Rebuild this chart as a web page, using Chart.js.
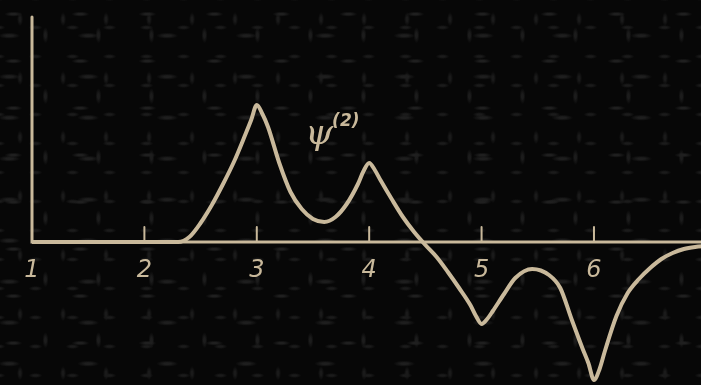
<!DOCTYPE html>
<html>
<head>
<meta charset="utf-8">
<script src="https://cdn.jsdelivr.net/npm/chart.js@4"></script>
<style>
  html, body { margin: 0; padding: 0; overflow: hidden; }
  body {
    width: 701px; height: 385px;
    background-color: #070707;
    background-image:
      radial-gradient(ellipse 9px 2.5px at 20% 30%, #1f1f1f 30%, transparent 100%),
      radial-gradient(ellipse 3px 8px at 65% 20%, #1c1c1c 30%, transparent 100%),
      radial-gradient(ellipse 11px 3px at 75% 70%, #1e1e1e 30%, transparent 100%),
      radial-gradient(ellipse 3px 7px at 35% 80%, #1a1a1a 30%, transparent 100%),
      radial-gradient(ellipse 7px 2.5px at 50% 50%, #1b1b1b 30%, transparent 100%);
    background-size: 67px 47px, 53px 61px, 79px 41px, 43px 59px, 37px 29px;
    background-position: 0 0, 11px 23px, 29px 7px, 5px 31px, 17px 13px;
  }
  #wrap { position: absolute; left: 0; top: 0; width: 720px; height: 385px; }
</style>
</head>
<body>
<div id="wrap"><canvas id="psi"></canvas></div>
<script>
// curve
const xs = [1.0, 2.0, 2.3, 2.4, 2.5, 2.6, 2.7, 2.8, 2.9, 2.95, 3.0, 3.05, 3.1, 3.2, 3.3, 3.4, 3.5, 3.6, 3.7, 3.8, 3.9, 3.95, 4.0, 4.05, 4.1, 4.2, 4.3, 4.4, 4.5, 4.6, 4.7, 4.8, 4.9, 4.95, 5.0, 5.05, 5.1, 5.2, 5.3, 5.45, 5.6, 5.7, 5.8, 5.9, 5.95, 6.0, 6.05, 6.1, 6.2, 6.3, 6.4, 6.5, 6.6, 6.7, 6.8, 6.9, 7.0]
const ys = [0, 0, 0, 0.05, 0.19, 0.37, 0.58, 0.81, 1.08, 1.22, 1.37, 1.28, 1.15, 0.79, 0.50, 0.33, 0.23, 0.20, 0.25, 0.38, 0.58, 0.71, 0.79, 0.72, 0.62, 0.43, 0.25, 0.10, -0.03, -0.15, -0.30, -0.46, -0.63, -0.74, -0.82, -0.77, -0.69, -0.52, -0.36, -0.27, -0.33, -0.46, -0.77, -1.07, -1.21, -1.38, -1.27, -1.08, -0.74, -0.51, -0.37, -0.26, -0.17, -0.11, -0.07, -0.05, -0.04]
const xTicks = [1, 2, 3, 4, 5, 6, 7]
const curveLabel = 'ψ'
const curveSup = '(2)'

const ink = '#c9b99b'

const axesPlugin = {
  id: 'axes',
  beforeDatasetsDraw(chart) {
    const ctx = chart.ctx
    const x = chart.scales.x, y = chart.scales.y
    const x0 = x.getPixelForValue(1), y0 = y.getPixelForValue(0)
    ctx.save()
    ctx.strokeStyle = ink
    ctx.lineCap = 'round'
    ctx.lineWidth = 3
    ctx.beginPath()
    ctx.moveTo(x0, y.getPixelForValue(2.25))
    ctx.lineTo(x0, y0)
    ctx.lineTo(chart.chartArea.right, y0)
    ctx.stroke()
    ctx.lineWidth = 2
    xTicks.slice(1).forEach(v => {
      const px = x.getPixelForValue(v)
      ctx.beginPath()
      ctx.moveTo(px, y0)
      ctx.lineTo(px, y0 - 15)
      ctx.stroke()
    })
    ctx.restore()
  },
  afterDatasetsDraw(chart) {
    const ctx = chart.ctx
    const x = chart.scales.x, y = chart.scales.y
    const px = x.getPixelForValue(3.43), py = y.getPixelForValue(0.98)
    ctx.save()
    ctx.fillStyle = ink
    ctx.font = 'italic 36px "DejaVu Serif"'
    ctx.textBaseline = 'alphabetic'
    ctx.fillText(curveLabel, px, py)
    ctx.font = 'italic bold 17px "DejaVu Sans"'
    ctx.fillText(curveSup, px + 27, py - 18)
    ctx.restore()
  }
}

new Chart('psi', {
  type: 'line',
  data: {
    datasets: [{
      data: xs.map((v, i) => ({x: v, y: ys[i]})),
      borderColor: ink,
      borderWidth: 4,
      pointRadius: 0,
      cubicInterpolationMode: 'monotone',
      fill: false
    }]
  },
  options: {
    responsive: true,
    maintainAspectRatio: false,
    animation: false,
    layout: { padding: { left: 32, right: 10, top: 0, bottom: 0 } },
    plugins: { legend: { display: false }, tooltip: { enabled: false } },
    scales: {
      x: {
        type: 'linear',
        position: { y: 0 },
        min: 1,
        max: 7,
        grid: { display: false },
        border: { display: false },
        afterBuildTicks: s => { s.ticks = xTicks.map(v => ({value: v})) },
        ticks: {
          color: ink,
          padding: 6,
          font: { family: 'DejaVu Sans', style: 'italic', size: 24 }
        }
      },
      y: {
        display: false,
        min: -1.43,
        max: 2.42
      }
    }
  },
  plugins: [axesPlugin]
})
</script>
</body>
</html>
